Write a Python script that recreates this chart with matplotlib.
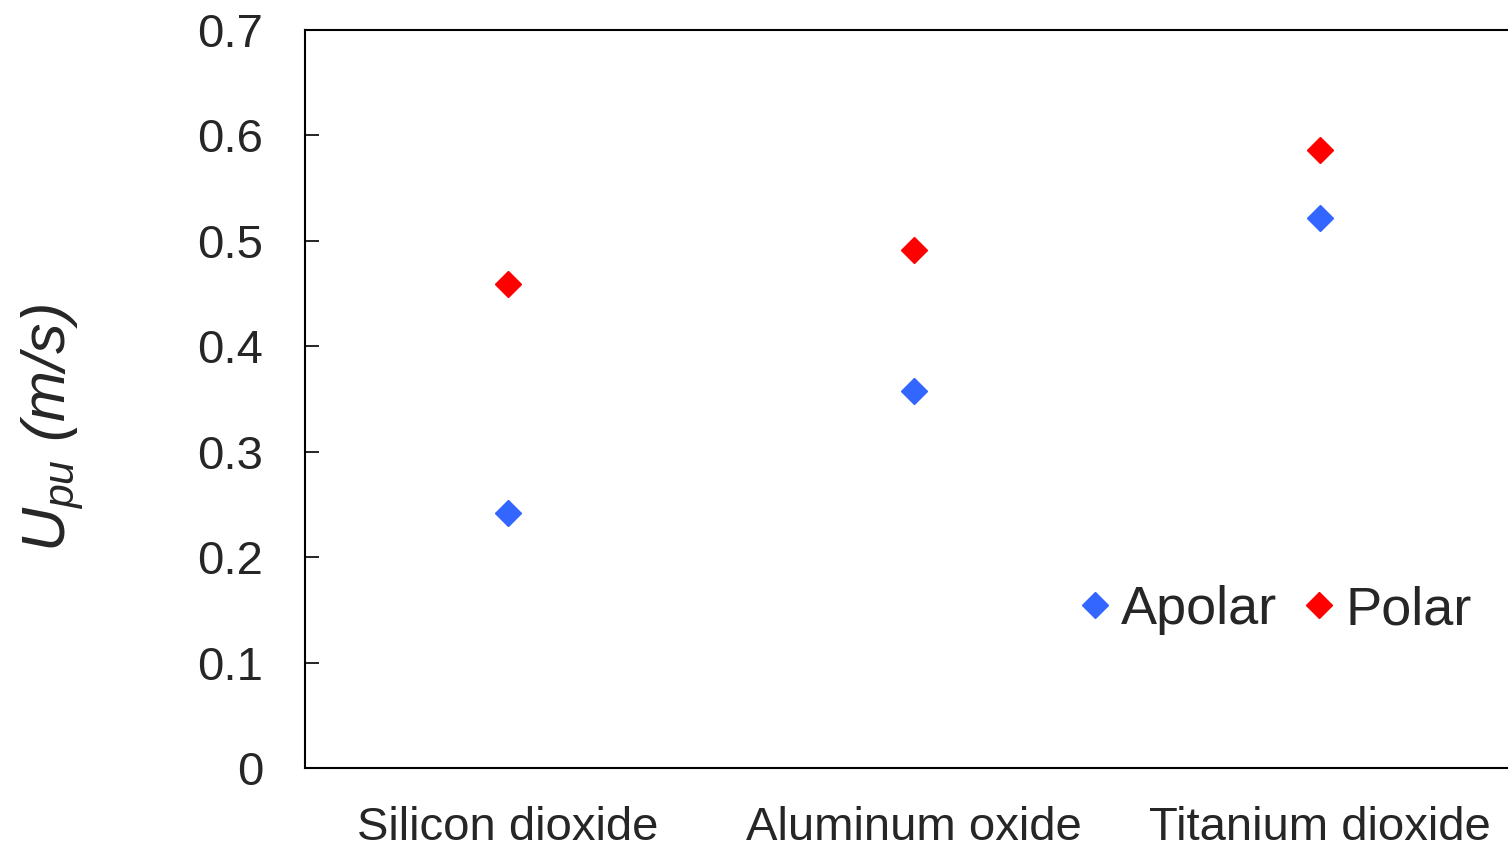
import matplotlib
matplotlib.use('Agg')
import matplotlib.pyplot as plt

plt.rcParams['font.family'] = ['Liberation Sans', 'DejaVu Sans']
plt.rcParams['mathtext.fontset'] = 'custom'
plt.rcParams['mathtext.it'] = 'Liberation Sans:italic'
plt.rcParams['mathtext.rm'] = 'Liberation Sans'

# data
materials = ['Silicon dioxide', 'Aluminum oxide', 'Titanium dioxide']
apolar = [0.242, 0.358, 0.522]
polar = [0.459, 0.491, 0.586]
yticks = [0, 0.1, 0.2, 0.3, 0.4, 0.5, 0.6, 0.7]
ytick_labels = ['0', '0.1', '0.2', '0.3', '0.4', '0.5', '0.6', '0.7']

fig = plt.figure(figsize=(15.08, 8.48), dpi=100)
# right edge of the axes sits just outside the picture, as in the reference
ax = fig.add_axes([305 / 1508, 80 / 848, 1218 / 1508, 738 / 848])

xpos = [i + 0.5 for i in range(len(materials))]
ax.plot(xpos, apolar, 'D', color='#3366ff', markersize=13, label='Apolar', clip_on=False)
ax.plot(xpos, polar, 'D', color='#ff0000', markersize=13, label='Polar', clip_on=False)

ax.set_xlim(0, 3)
ax.set_ylim(0, 0.7)
ax.set_xticks(xpos)
ax.set_xticklabels(materials)
ax.set_yticks(yticks)
ax.set_yticklabels(ytick_labels)

ax.tick_params(axis='y', direction='in', length=10, width=1.2, pad=30,
               labelsize=34, labelcolor='#262626')
ax.tick_params(axis='x', length=0, pad=27, labelsize=34, labelcolor='#262626')

for side in ['left', 'bottom', 'top', 'right']:
    ax.spines[side].set_linewidth(1.5)
    ax.spines[side].set_color('black')

ax.set_ylabel(r'$U_{pu}$ (m/s)', fontsize=44, fontstyle='italic', color='#262626')
ax.yaxis.set_label_coords(-0.1795, 0.461)

ax.legend(loc='center right', bbox_to_anchor=(0.958, 0.214), ncol=2, frameon=False,
          fontsize=39, handlelength=0.6, handletextpad=0.18, columnspacing=0.48,
          borderaxespad=0, borderpad=0, markerscale=1.0, labelcolor='#262626')

fig.savefig('out.png', dpi=100, facecolor='white')
